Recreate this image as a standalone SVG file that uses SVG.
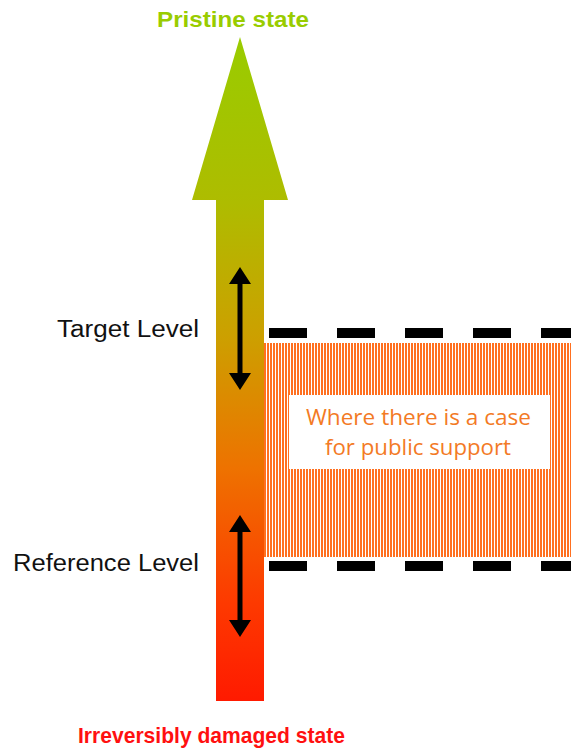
<svg xmlns="http://www.w3.org/2000/svg" width="571" height="749" viewBox="0 0 571 749">
  <style>
    .lbl { font-family: "Liberation Sans", Arial, sans-serif; font-size: 23px; fill: #111; }
    .title { font-family: "Liberation Sans", Arial, sans-serif; font-size: 22px; font-weight: bold; }
    .box { font-family: "Open Sans", "Liberation Sans", sans-serif; font-size: 21px; fill: #f37a25; }
    .dash { stroke: #000; stroke-width: 10; stroke-dasharray: 38 30; fill: none; }
    .dbl { fill: #000; }
  </style>
  <defs>
    <linearGradient id="grad" gradientUnits="userSpaceOnUse" x1="0" y1="37" x2="0" y2="701">
      <stop offset="0" stop-color="#99cc00"/>
      <stop offset="0.25" stop-color="#aebc00"/>
      <stop offset="0.45" stop-color="#cca000"/>
      <stop offset="0.65" stop-color="#ee7200"/>
      <stop offset="0.85" stop-color="#fd3a00"/>
      <stop offset="1" stop-color="#ff1a00"/>
    </linearGradient>
    <pattern id="hatch" patternUnits="userSpaceOnUse" width="3" height="10">
      <rect x="0" y="0" width="3" height="10" fill="#ffffff"/>
      <rect x="0" y="0" width="2" height="10" fill="#ff7020"/>
    </pattern>
  </defs>
  <rect width="571" height="749" fill="#ffffff"/>

  <g id="support-zone">
    <rect x="264" y="343" width="307" height="214" fill="url(#hatch)"/>
    <rect x="289" y="395" width="261" height="74" fill="#ffffff"/>
    <text class="box" x="306" y="425" textLength="225" lengthAdjust="spacingAndGlyphs">Where there is a case</text>
    <text class="box" x="325" y="455" textLength="186" lengthAdjust="spacingAndGlyphs">for public support</text>
  </g>

  <g id="main-arrow">
    <polygon points="240,37 288,200 264,200 264,701 216,701 216,200 192,200" fill="url(#grad)"/>
  </g>

  <g id="target-level">
    <text class="lbl" x="57" y="337" textLength="142" lengthAdjust="spacingAndGlyphs">Target Level</text>
  </g>
  <g id="reference-level">
    <text class="lbl" x="13" y="571" textLength="186" lengthAdjust="spacingAndGlyphs">Reference Level</text>
  </g>
  <g id="pristine">
    <text class="title" x="157" y="27" fill="#99cc00" textLength="152" lengthAdjust="spacingAndGlyphs">Pristine state</text>
  </g>
  <g id="damaged">
    <text class="title" x="78" y="743" fill="#ff1010" textLength="267" lengthAdjust="spacingAndGlyphs">Irreversibly damaged state</text>
  </g>

  <g id="connectors">
    <line class="dash" x1="269" y1="333" x2="571" y2="333"/>
    <line class="dash" x1="269" y1="566" x2="571" y2="566"/>
    <polygon class="dbl" points="240,267 251,284 242.5,284 242.5,373 251,373 240,390 229,373 237.5,373 237.5,284 229,284"/>
    <polygon class="dbl" points="240,515 251,532 242.5,532 242.5,620 251,620 240,637 229,620 237.5,620 237.5,532 229,532"/>
  </g>
</svg>
